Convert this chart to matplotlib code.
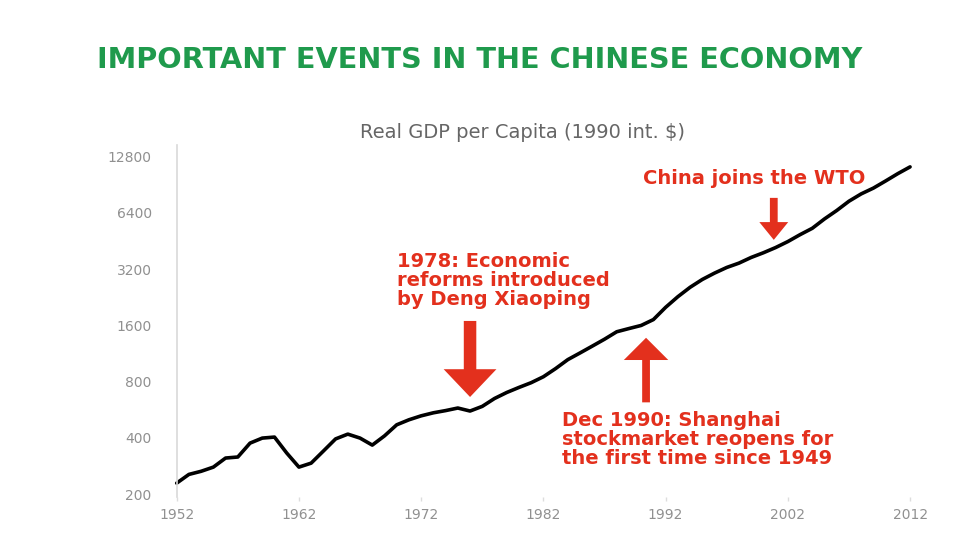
import matplotlib
matplotlib.use("Agg")
import matplotlib.pyplot as plt
from matplotlib.ticker import FixedLocator, NullLocator

# real GDP per capita (1990 int. $)
years = list(range(1952, 2013))
gdp = [229, 255, 265, 279, 312, 316, 375, 399, 404, 332,
       279, 293, 340, 395, 419, 399, 366, 410, 470, 500,
       525, 545, 560, 578, 557, 590, 650, 700, 745, 790,
       850, 940, 1050, 1140, 1240, 1350, 1480, 1540, 1600, 1720,
       2000, 2280, 2560, 2820, 3050, 3270, 3450, 3700, 3920, 4180,
       4500, 4900, 5300, 5950, 6600, 7400, 8100, 8700, 9500, 10400,
       11300]

y_ticks = [200, 400, 800, 1600, 3200, 6400, 12800]
x_ticks = [1952, 1962, 1972, 1982, 1992, 2002, 2012]

title = "IMPORTANT EVENTS IN THE CHINESE ECONOMY"
subtitle = "Real GDP per Capita (1990 int. $)"
note_reform = "1978: Economic\nreforms introduced\nby Deng Xiaoping"
note_wto = "China joins the WTO"
note_shanghai = "Dec 1990: Shanghai\nstockmarket reopens for\nthe first time since 1949"

red = "#e3301d"
grey = "#909090"

W, H = 961, 540
fig = plt.figure(figsize=(W / 100, H / 100), dpi=100)
# axes placed in pixel terms: spine at x=177, plot area y 145..497
ax = fig.add_axes([176.7 / W, (540 - 497) / H, 751.7 / W, 352 / H])

ax.plot(years, gdp, color="black", lw=2.6, solid_capstyle="round", clip_on=False)
ax.set_yscale("log", base=2)
ax.set_xlim(1952.3, 2013.5)
ax.set_ylim(193, 14800)

ax.yaxis.set_major_locator(FixedLocator(y_ticks))
ax.yaxis.set_minor_locator(NullLocator())
ax.set_yticklabels([str(v) for v in y_ticks])
ax.set_xticks(x_ticks)
ax.tick_params(axis="y", length=0, pad=18, labelsize=10, labelcolor=grey)
ax.tick_params(axis="x", length=3, width=1, color="#dddddd", pad=5,
               labelsize=10, labelcolor=grey)

for s in ["top", "right", "bottom"]:
    ax.spines[s].set_visible(False)
ax.spines["left"].set_color("#d9d9d9")
ax.spines["left"].set_linewidth(1.2)

fig.text(480 / W, 1 - 60 / H, title, ha="center", va="center",
         color="#1f9a4c", fontsize=20.7, fontweight="bold")
fig.text(522 / W, 1 - 132 / H, subtitle, ha="center", va="center",
         color="#666666", fontsize=14)

txt_kw = dict(color=red, fontweight="bold", family="DejaVu Sans",
              fontsize=14, linespacing=1.0, ha="left")
fig.text(397 / W, 1 - 252 / H, note_reform, va="top", **txt_kw)
fig.text(643 / W, 1 - 178 / H, note_wto, va="center", **txt_kw)
fig.text(562 / W, 1 - 411 / H, note_shanghai, va="top", **txt_kw)

# arrows pointing at the line
ax.annotate("", xy=(1976.0, 640), xytext=(1976.0, 1750),
            arrowprops=dict(arrowstyle="simple,head_length=1.0,head_width=1.9,tail_width=0.45",
                            mutation_scale=20, color=red, lw=0))
ax.annotate("", xy=(2000.85, 4440), xytext=(2000.85, 7980),
            arrowprops=dict(arrowstyle="simple,head_length=0.8,head_width=1.3,tail_width=0.35",
                            mutation_scale=16, color=red, lw=0))
ax.annotate("", xy=(1990.4, 1422), xytext=(1990.4, 599),
            arrowprops=dict(arrowstyle="simple,head_length=1.0,head_width=2.0,tail_width=0.35",
                            mutation_scale=16, color=red, lw=0))

fig.savefig("out.png", dpi=100)
